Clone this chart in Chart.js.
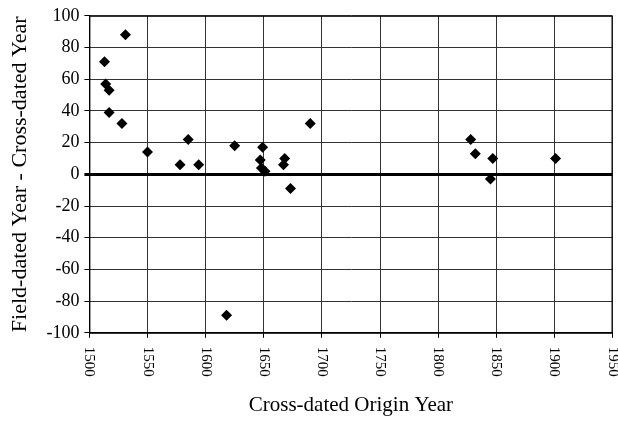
<!DOCTYPE html>
<html>
<head>
<meta charset="utf-8">
<script src="https://cdn.jsdelivr.net/npm/chart.js@4/dist/chart.umd.min.js"></script>
<style>
  html, body { margin: 0; padding: 0; background: #fff; }
  #wrap { width: 618px; height: 438px; }
</style>
</head>
<body>
<div id="wrap"><canvas id="canvas" width="618" height="438"></canvas></div>
<script>
// cross-dated origin year vs (field-dated - cross-dated) difference
var originYears = [1513, 1514, 1517, 1517, 1531, 1528, 1550, 1578, 1585, 1594, 1618, 1625,
  1649, 1647, 1648, 1651, 1668, 1667, 1673, 1690, 1828, 1832, 1847, 1845, 1901];
var yearDiffs = [71, 57, 53, 39, 88, 32, 14, 6, 22, 6, -89, 18,
  17, 9, 4, 2, 10, 6, -9, 32, 22, 13, 10, -3, 10];
var xTickLabels = [1500, 1550, 1600, 1650, 1700, 1750, 1800, 1850, 1900, 1950];
var yTickLabels = [-100, -80, -60, -40, -20, 0, 20, 40, 60, 80, 100];

var points = originYears.map(function (yr, i) {
  return { x: yr, y: yearDiffs[i] };
});

var serif = '"Liberation Serif", "Times New Roman", serif';

// draw x tick labels rotated clockwise (reads top to bottom) + frame
var frameAndLabels = {
  id: "frameAndLabels",
  afterDraw: function (chart) {
    var ctx = chart.ctx;
    var a = chart.chartArea;
    var sx = chart.scales.x;
    ctx.save();
    ctx.strokeStyle = "#000";
    ctx.lineWidth = 1;
    ctx.strokeRect(a.left + 0.5, a.top + 0.5, a.right - a.left - 1, a.bottom - a.top);
    ctx.font = "15px " + serif;
    ctx.fillStyle = "#000";
    ctx.textAlign = "left";
    ctx.textBaseline = "middle";
    xTickLabels.forEach(function (v) {
      var px = sx.getPixelForValue(v);
      ctx.save();
      ctx.translate(px, a.bottom + 14);
      ctx.rotate(Math.PI / 2);
      ctx.fillText(String(v), 0, 0);
      ctx.restore();
    });
    ctx.restore();
  },
};

var config = {
  type: "scatter",
  data: {
    datasets: [
      {
        label: "Difference",
        data: points,
        pointStyle: "rectRot",
        pointRadius: 5.5,
        pointHoverRadius: 5.5,
        backgroundColor: "#000",
        borderColor: "#000",
        borderWidth: 0,
      },
    ],
  },
  options: {
    responsive: false,
    animation: false,
    layout: { padding: { top: 11, right: 5, left: 7, bottom: 0 } },
    plugins: {
      legend: { display: false },
      tooltip: { enabled: false },
    },
    scales: {
      x: {
        type: "linear",
        min: 1500,
        max: 1950,
        afterBuildTicks: function (axis) {
          axis.ticks = xTickLabels.map(function (v) { return { value: v }; });
        },
        grid: {
          color: "#333",
          lineWidth: 1,
          drawTicks: true,
          tickLength: 5,
          tickColor: "#000",
        },
        border: { color: "#000", width: 1 },
        ticks: { display: false },
        title: {
          display: true,
          text: "Cross-dated Origin Year",
          color: "#000",
          font: { family: serif, size: 21 },
          padding: { top: 55, bottom: 20 },
        },
      },
      y: {
        min: -100,
        max: 100,
        afterBuildTicks: function (axis) {
          axis.ticks = yTickLabels.map(function (v) { return { value: v }; });
        },
        grid: {
          color: function (c) { return c.tick && c.tick.value === 0 ? "#000" : "#333"; },
          lineWidth: function (c) { return c.tick && c.tick.value === 0 ? 3 : 1; },
          drawTicks: true,
          tickLength: 5,
          tickColor: "#000",
        },
        border: { color: "#000", width: 1 },
        ticks: {
          color: "#000",
          font: { family: serif, size: 18 },
          padding: 5,
        },
        title: {
          display: true,
          text: "Field-dated Year - Cross-dated Year",
          color: "#000",
          font: { family: serif, size: 22 },
          padding: { top: 0, bottom: 8 },
        },
      },
    },
  },
  plugins: [frameAndLabels],
};

var myChart = new Chart(document.getElementById("canvas"), config);
</script>
</body>
</html>
